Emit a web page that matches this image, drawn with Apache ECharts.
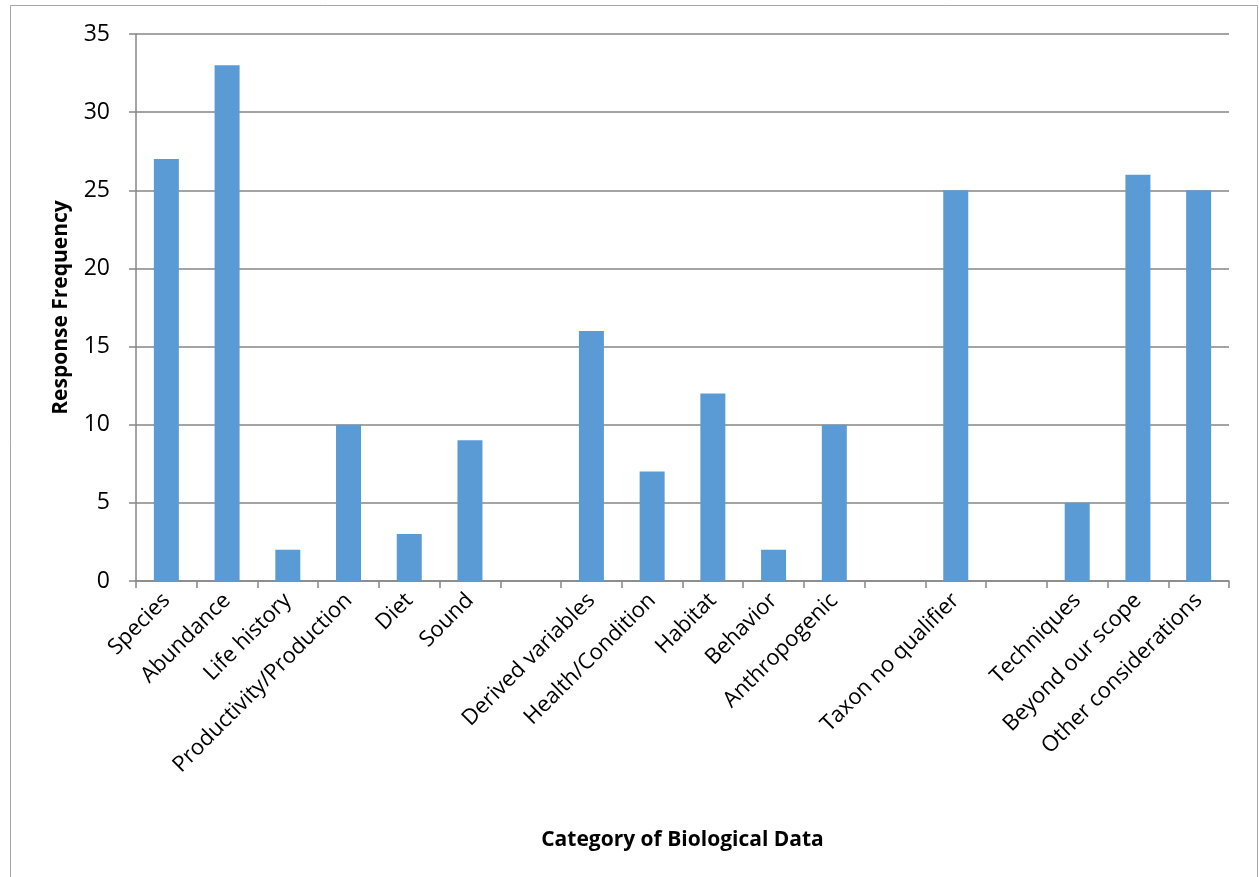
<!DOCTYPE html>
<html>
<head>
<meta charset="utf-8">
<script src="https://cdn.jsdelivr.net/npm/echarts@6/dist/echarts.min.js"></script>
<style>
  html, body { margin: 0; padding: 0; background: #fff; }
  #chart { width: 1259px; height: 877px; }
</style>
</head>
<body>
<div id="chart"></div>
<script>
// Categories of biological data (blank slots are gaps in the axis)
const categories = [
  'Species', 'Abundance', 'Life history', 'Productivity/Production', 'Diet', 'Sound', '',
  'Derived variables', 'Health/Condition', 'Habitat', 'Behavior', 'Anthropogenic', '',
  'Taxon no qualifier', '', 'Techniques', 'Beyond our scope', 'Other considerations'
];
// Number of responses per category
const responses = [27, 33, 2, 10, 3, 9, null, 16, 7, 12, 2, 10, null, 25, null, 5, 26, 25];
const yTicks = { min: 0, max: 35, interval: 5 };

const FONT = '"Open Sans", "Liberation Sans", sans-serif';
const chart = echarts.init(document.getElementById('chart'), null, { renderer: 'canvas' });

chart.setOption({
  backgroundColor: '#fff',
  animation: false,
  graphic: [{
    type: 'rect',
    shape: { x: 10.5, y: 5.5, width: 1247, height: 900 },
    style: { fill: 'none', stroke: '#a6a6a6', lineWidth: 1 },
    silent: true
  }],
  grid: { left: 136, right: 30, top: 34, bottom: 296, containLabel: false },
  xAxis: {
    type: 'category',
    data: categories,
    name: 'Category of Biological Data',
    nameLocation: 'middle',
    nameGap: 249,
    nameTextStyle: { fontFamily: FONT, fontSize: 21, fontWeight: 'bold', color: '#000' },
    axisLine: { lineStyle: { color: '#868686', width: 1.5 } },
    axisTick: { show: true, length: 7, alignWithLabel: false, lineStyle: { color: '#868686', width: 1.5 } },
    axisLabel: {
      interval: 0, rotate: 45, margin: 16,
      fontFamily: FONT, fontSize: 22, color: '#000'
    }
  },
  yAxis: {
    type: 'value',
    min: yTicks.min, max: yTicks.max, interval: yTicks.interval,
    name: 'Response Frequency',
    nameLocation: 'middle',
    nameGap: 64,
    nameRotate: 90,
    nameTextStyle: { fontFamily: FONT, fontSize: 21, fontWeight: 'bold', color: '#000' },
    axisLine: { show: true, lineStyle: { color: '#868686', width: 1.5 } },
    axisTick: { show: true, length: 7, inside: false, lineStyle: { color: '#868686', width: 1.5 } },
    axisLabel: { margin: 26, fontFamily: FONT, fontSize: 23, color: '#000' },
    splitLine: { show: true, lineStyle: { color: '#868686', width: 1.5 } }
  },
  series: [{
    type: 'bar',
    data: responses,
    barWidth: 25,
    itemStyle: { color: '#5b9bd5' }
  }]
});
</script>
</body>
</html>
